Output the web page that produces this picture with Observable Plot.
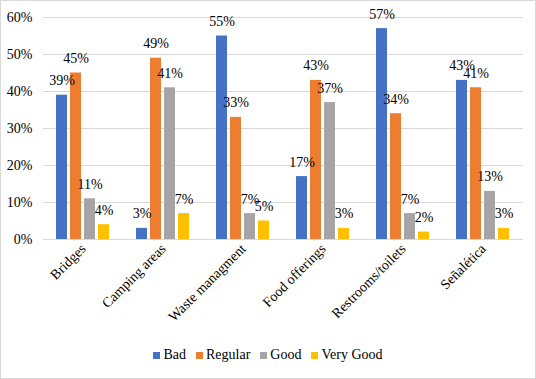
<!DOCTYPE html>
<html>
<head>
<meta charset="utf-8">
<script src="https://cdn.jsdelivr.net/npm/d3@7"></script>
<script src="https://cdn.jsdelivr.net/npm/@observablehq/plot@0.6"></script>
</head>
<body style="margin:0;padding:0;background:#fff">
<div id="frame" style="width:536px;height:379px;box-sizing:border-box;border:1px solid #d9d9d9;position:relative;overflow:hidden">
  <div id="chart"></div>
  <div id="legend" style="position:absolute;left:0;right:0;top:346px;display:flex;justify-content:center;align-items:center;font-size:14px;color:#000"></div>
</div>
<script>
const categories = ["Bridges", "Camping areas", "Waste managment", "Food offerings", "Restrooms/toilets", "Señalética"];
const series = ["Bad", "Regular", "Good", "Very Good"];
const colors = ["#4472C4", "#ED7D31", "#A5A5A5", "#FFC000"];
const bad = [39, 3, 55, 17, 57, 43];
const regular = [45, 49, 33, 43, 34, 41];
const good = [11, 41, 7, 37, 7, 13];
const veryGood = [4, 7, 5, 3, 2, 3];
const yTicks = [0, 10, 20, 30, 40, 50, 60];

const FONT = "'Liberation Serif', serif";
const valuesBySeries = [bad, regular, good, veryGood];
const data = [];
categories.forEach((c, i) => {
  series.forEach((s, j) => {
    data.push({category: c, series: s, value: valuesBySeries[j][i]});
  });
});

const chart = Plot.plot({
  width: 534,
  height: 339,
  marginLeft: 42,
  marginRight: 12,
  marginTop: 16,
  marginBottom: 101,
  style: {fontSize: "14px", color: "#000", background: "#fff"},
  fx: {domain: categories, padding: 0},
  x: {domain: series, axis: null, paddingInner: 0.18, paddingOuter: 0.83},
  y: {domain: [0, 60]},
  color: {domain: series, range: colors},
  marks: [
    Plot.gridY(yTicks, {stroke: "#d9d9d9", strokeOpacity: 1}),
    Plot.axisY(yTicks, {tickFormat: d => d + "%", label: null, tickSize: 0, tickPadding: 11, fontSize: 14, fill: "#000"}),
    Plot.axisFx({anchor: "bottom", label: null, tickSize: 0, tickRotate: -45, tickPadding: 7, fontSize: 14, fill: "#000"}),
    Plot.barY(data, {fx: "category", x: "series", y: "value", fill: "series"}),
    Plot.text(data, {fx: "category", x: "series", y: "value", text: d => d.value + "%", dy: -10, lineAnchor: "bottom", fontSize: 14, fill: "#000"})
  ]
});
chart.style.display = "block";
chart.style.setProperty("font-family", FONT, "important");
chart.querySelectorAll("text, tspan, g").forEach(t => t.style.setProperty("font-family", FONT, "important"));
document.getElementById("chart").appendChild(chart);

const legend = document.getElementById("legend");
legend.style.setProperty("font-family", FONT, "important");
series.forEach((s, j) => {
  const item = document.createElement("div");
  item.style.display = "flex";
  item.style.alignItems = "center";
  item.style.margin = "0 5px";
  const sw = document.createElement("div");
  sw.style.width = "7px";
  sw.style.height = "7px";
  sw.style.marginRight = "3px";
  sw.style.background = colors[j];
  const label = document.createElement("span");
  label.textContent = s;
  label.style.setProperty("font-family", FONT, "important");
  item.appendChild(sw);
  item.appendChild(label);
  legend.appendChild(item);
});
</script>
</body>
</html>
